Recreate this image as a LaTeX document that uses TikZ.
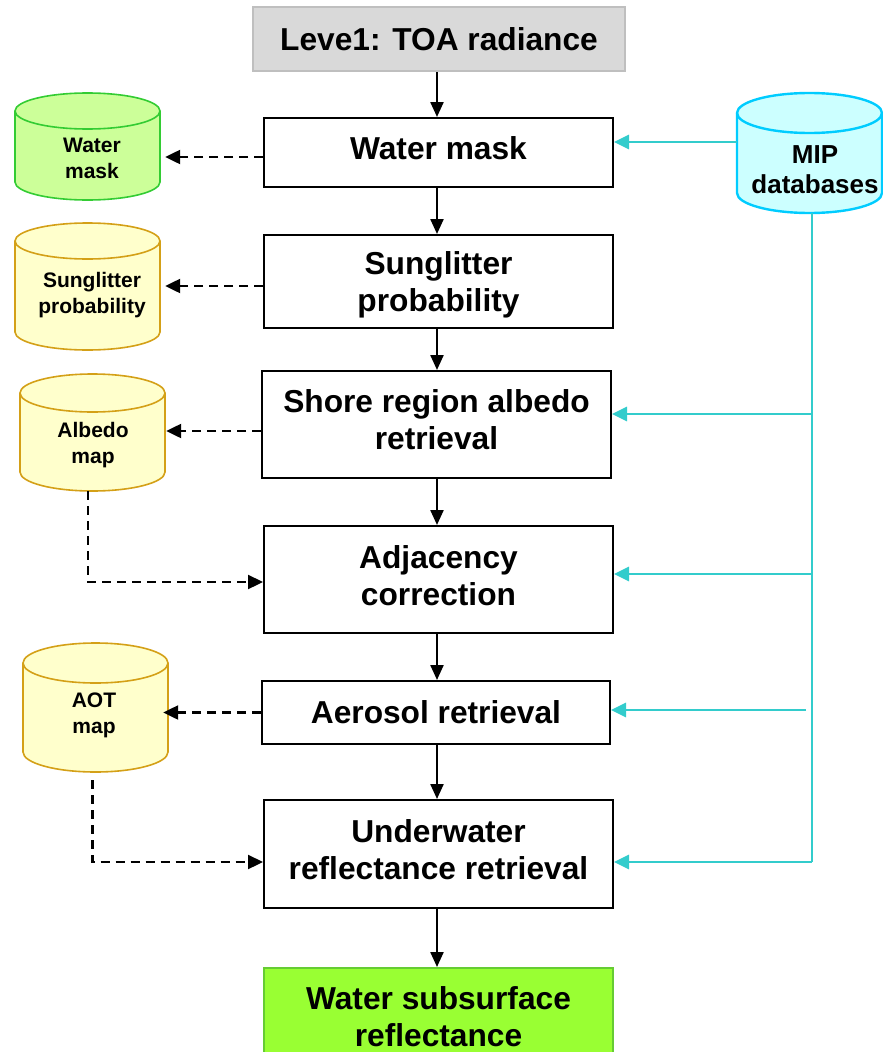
\documentclass[tikz,border=0pt]{standalone}
\usepackage{fontspec}
\setmainfont{Liberation Sans}
\usetikzlibrary{arrows.meta}

\definecolor{toafill}{HTML}{D9D9D9}
\definecolor{toaline}{HTML}{BFBFBF}
\definecolor{wmfill}{HTML}{CCFF99}
\definecolor{wmline}{HTML}{33CC33}
\definecolor{yfill}{HTML}{FFFFCC}
\definecolor{yline}{HTML}{D4A017}
\definecolor{mipfill}{HTML}{CCFFFF}
\definecolor{mipline}{HTML}{00CCFF}
\definecolor{feed}{HTML}{33CCCC}
\definecolor{outfill}{HTML}{99FF33}
\definecolor{outborder}{HTML}{66CC33}

% database drum: style, name, left, top, right, bottom, radius of the lids
\newcommand{\dbdrum}[7]{%
  \pgfmathsetmacro\dl{#3}\pgfmathsetmacro\dt{#4}%
  \pgfmathsetmacro\dr{#5}\pgfmathsetmacro\db{#6}\pgfmathsetmacro\dry{#7}%
  \pgfmathsetmacro\dcx{(\dl+\dr)/2}%
  \pgfmathsetmacro\dcy{(\dt+\db)/2}%
  \pgfmathsetmacro\dkx{0.5523*(\dr-\dl)/2}%
  \pgfmathsetmacro\dky{0.5523*\dry}%
  \pgfmathsetmacro\dta{\dt+\dry}%
  \pgfmathsetmacro\dba{\db-\dry}%
  \pgfmathsetmacro\dbk{\dba+\dky}%
  \pgfmathsetmacro\dtk{\dta-\dky}%
  \pgfmathsetmacro\dtf{\dta+\dky}%
  \pgfmathsetmacro\dtb{\dt+2*\dry}%
  \pgfmathsetmacro\dxl{\dcx-\dkx}%
  \pgfmathsetmacro\dxr{\dcx+\dkx}%
  \pgfmathsetmacro\dw{\dr-\dl}%
  \pgfmathsetmacro\dh{\db-\dt}%
  \draw[#1] (\dl,\dta) -- (\dl,\dba)
     .. controls (\dl,\dbk) and (\dxl,\db) .. (\dcx,\db)
     .. controls (\dxr,\db) and (\dr,\dbk) .. (\dr,\dba)
     -- (\dr,\dta)
     .. controls (\dr,\dtk) and (\dxr,\dt) .. (\dcx,\dt)
     .. controls (\dxl,\dt) and (\dl,\dtk) .. (\dl,\dta) -- cycle;
  \draw[#1, fill=none] (\dl,\dta)
     .. controls (\dl,\dtf) and (\dxl,\dtb) .. (\dcx,\dtb)
     .. controls (\dxr,\dtb) and (\dr,\dtf) .. (\dr,\dta);
  \node[inner sep=0pt, minimum width=\dw pt, minimum height=\dh pt] (#2) at (\dcx,\dcy) {};
}

\tikzset{
  stepbox/.style={draw=black, line width=2pt, fill=white, minimum width=349pt,
    align=center, inner sep=0pt, font=\fontsize{31.7}{37}\selectfont\bfseries},
  flow/.style={line width=2.3pt, -{Triangle[length=15pt,width=13pt]}},
  store/.style={line width=2.3pt, dash pattern=on 9pt off 6pt,
    -{Triangle[length=15pt,width=14pt]}},
  feedarrow/.style={draw=feed, line width=2.7pt, -{Triangle[length=15pt,width=14pt]}},
  feedline/.style={draw=feed, line width=2.7pt},
  dbtext/.style={align=center, inner sep=0pt, font=\fontsize{21}{26}\selectfont\bfseries},
  miptext/.style={align=center, inner sep=0pt, font=\fontsize{26}{30}\selectfont\bfseries},
}

\begin{document}
\begin{tikzpicture}[x=1pt,y=-1pt]
  \useasboundingbox (0,0) rectangle (883,1052);
  \clip (0,0) rectangle (883,1052);

  % processing chain
  \node[stepbox, fill=toafill, draw=toaline, minimum width=372pt, minimum height=64pt] (toa) at (439,39) {Leve1: TOA radiance};
  \node[stepbox, minimum height=69pt, text depth=8pt] (wm) at (438.5,152.5) {Water mask};
  \node[stepbox, minimum height=93pt, text depth=0pt] (sg) at (438.5,281.5) {Sunglitter\\probability};
  \node[stepbox, minimum height=107pt, text depth=10pt] (sh) at (436.5,424.5) {Shore region albedo\\retrieval};
  \node[stepbox, minimum height=107pt, text depth=8pt] (adj) at (438.5,579.5) {Adjacency\\correction};
  \node[stepbox, minimum width=348pt, minimum height=63pt] (aer) at (436,712.5) {Aerosol retrieval};
  \node[stepbox, minimum height=108pt, text depth=8pt] (uw) at (438.5,854) {Underwater\\reflectance retrieval};
  \node[stepbox, fill=outfill, draw=outborder, minimum height=98pt] (ws) at (438.5,1017) {Water subsurface\\reflectance};

  % data stores
  \dbdrum{draw=wmline, fill=wmfill, line width=1.6pt}{wmdb}{15}{93}{160}{200}{18}
  \dbdrum{draw=yline, fill=yfill, line width=1.6pt}{sgdb}{15}{223}{160}{350}{18}
  \dbdrum{draw=yline, fill=yfill, line width=1.6pt}{abdb}{20}{374}{165}{491}{19}
  \dbdrum{draw=yline, fill=yfill, line width=1.6pt}{aotdb}{23}{643}{168}{772}{20}
  \dbdrum{draw=mipline, fill=mipfill, line width=2.4pt}{mip}{737}{93}{882}{213}{20}

  \node[dbtext] (wmlab) at (92,158) {Water\\mask};
  \node[dbtext] (sglab) at (92,295) {Sunglitter\\probability};
  \node[dbtext] (ablab) at (93,445) {Albedo\\map};
  \node[dbtext] (aotlab) at (94,715) {AOT\\map};
  \node[miptext] (miplab) at (815,170) {MIP\\databases};

  % main flow, one straight column
  \coordinate (col) at (437,0);
  \draw[flow] (toa.south -| col) -- (wm.north -| col);
  \draw[flow] (wm.south -| col) -- (sg.north -| col);
  \draw[flow] (sg.south -| col) -- (sh.north -| col);
  \draw[flow] (sh.south -| col) -- (adj.north -| col);
  \draw[flow] (adj.south -| col) -- (aer.north -| col);
  \draw[flow] (aer.south -| col) -- (uw.north -| col);
  \draw[flow] (uw.south -| col) -- (ws.north -| col);

  % products written to the stores
  \draw[store] ([yshift=-4.5pt]wm.west) -- ([yshift=-4.5pt,xshift=5pt]wm.west -| wmdb.east);
  \draw[store] ([yshift=-4.5pt]sg.west) -- ([yshift=-4.5pt,xshift=5pt]sg.west -| sgdb.east);
  \draw[store] ([yshift=-6.5pt]sh.west) -- ([yshift=-6.5pt,xshift=1pt]sh.west -| abdb.east);
  \draw[store] (aer.west) -- ([xshift=-5pt]aer.west -| aotdb.east);

  % stores read back further down
  \draw[store] ([xshift=-4.5pt]abdb.south) |- ([yshift=-2.5pt]adj.west);
  \draw[store] ([xshift=-3pt,yshift=-8pt]aotdb.south) |- ([yshift=-8pt]uw.west);

  % auxiliary databases
  \coordinate (bus) at (812,862);
  \draw[feedarrow] ([yshift=11pt]mip.west) -- ([yshift=11pt]mip.west -| wm.east);
  \draw[feedline] (mip.south -| bus) -- (bus);
  \draw[feedarrow] ([yshift=10.5pt]sh.east -| bus) -- ([yshift=10.5pt]sh.east);
  \draw[feedarrow] ([yshift=5.5pt]adj.east -| bus) -- ([yshift=5.5pt]adj.east);
  \draw[feedarrow] ([yshift=2.5pt,xshift=-6pt]aer.east -| bus) -- ([yshift=2.5pt]aer.east);
  \draw[feedarrow] (bus) -- (bus -| uw.east);
\end{tikzpicture}
\end{document}
